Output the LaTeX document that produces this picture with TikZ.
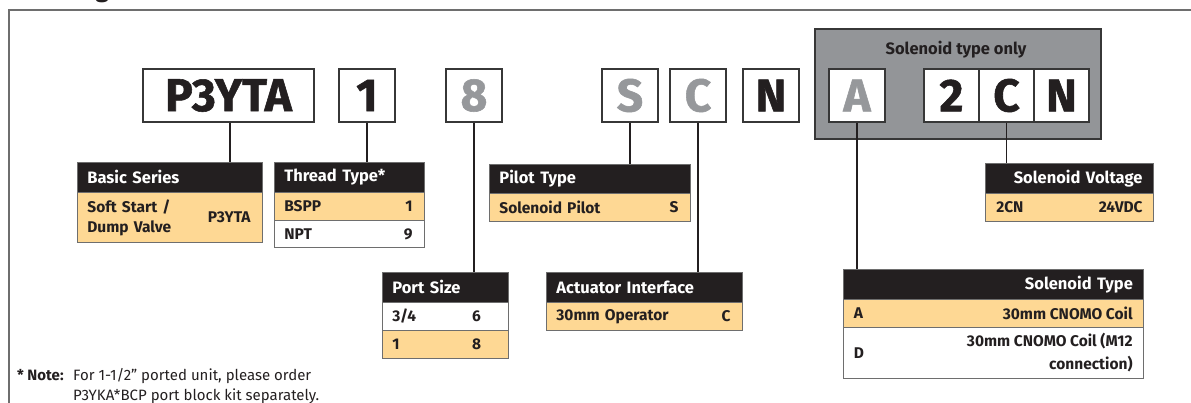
\documentclass[tikz,border=0pt]{standalone}
\usepackage{fontspec}
\setmainfont{Fira Sans}
\definecolor{hdrblack}{RGB}{35,31,32}
\definecolor{rowor}{RGB}{254,216,148}
\definecolor{grayfill}{RGB}{147,149,152}
\definecolor{graytxt}{RGB}{150,152,155}
\definecolor{bordr}{RGB}{55,55,55}
\definecolor{rowline}{RGB}{110,110,110}
\begin{document}
\begin{tikzpicture}[x=1pt,y=-1pt,
  frame/.style={draw=rowline, line width=1.1pt},
  code/.style={draw=bordr, line width=1.5pt, fill=white, inner sep=0pt, minimum width=56pt, minimum height=53pt, font=\bfseries\fontsize{46}{46}\selectfont\addfontfeature{FakeBold=1.2}, text=hdrblack},
  codeg/.style={code, text=graytxt},
  conn/.style={draw=hdrblack, line width=1.2pt},
  tbl/.style={anchor=north west, inner xsep=10pt, inner ysep=0pt, align=left, draw=rowline, line width=0.8pt},
  hdr/.style={tbl, fill=hdrblack, text=white, font=\bfseries\fontsize{16.5}{19}\selectfont, minimum height=30pt},
  rowo/.style={tbl, fill=rowor, text=hdrblack, font=\bfseries\fontsize{15.5}{20}\selectfont, minimum height=28pt},
  roww/.style={rowo, fill=white},
  val/.style={inner sep=0pt, text=hdrblack, font=\bfseries\fontsize{15.5}{20}\selectfont},
  note/.style={anchor=base west, inner sep=0pt, font=\fontsize{15}{17}\selectfont, text=hdrblack}
]
\useasboundingbox (0,0) rectangle (1191,403);
% title (cut off at the top of the picture)
\node[anchor=base west, inner sep=0pt, font=\bfseries\fontsize{24}{24}\selectfont, text=hdrblack] (title) at (12,-2) {Ordering Information};
\draw[frame] (1191,10) -- (9,10) -- (9,403);

% solenoid-only grey panel
\draw[draw=bordr, line width=1.5pt, fill=grayfill] (815,29) rectangle (1101,139);
\node[inner sep=0pt, font=\bfseries\fontsize{16.5}{16.5}\selectfont, text=hdrblack] (solonly) at (956,50) {Solenoid type only};

% code boxes
\node[code, minimum width=171pt] (cP) at (228.5,95.5) {P3YTA};
\node[code] (c1) at (367,95.5) {1};
\node[codeg] (c8) at (474,95.5) {8};
\node[codeg] (cS) at (630,95.5) {S};
\node[codeg] (cC) at (698,95.5) {C};
\node[code] (cN) at (771,95.5) {N};
\node[codeg] (cA) at (857,95.5) {A};
\node[code, minimum width=55pt] (c2) at (951.5,95.5) {2};
\node[code, minimum width=55pt] (cC2) at (1006.5,95.5) {C};
\node[code, minimum width=55pt] (cN2) at (1061.5,95.5) {N};

% Basic Series
\node[hdr, minimum width=185pt, text width=165pt] (bsh) at (77,162) {Basic Series};
\node[rowo, minimum width=185pt, text width=165pt, minimum height=50pt] (bs1) at (77,192) {Soft Start /\\Dump Valve};
\node[val, anchor=east] (bs1v) at ([xshift=-12pt]bs1.east) {P3YTA};

% Thread Type
\node[hdr, minimum width=150pt, text width=130pt] (tth) at (274,162) {Thread Type*};
\node[rowo, minimum width=150pt, text width=130pt] (tt1) at (274,192) {BSPP};
\node[val, anchor=east] (tt1v) at ([xshift=-12pt]tt1.east) {1};
\node[roww, minimum width=150pt, text width=130pt, minimum height=27pt] (tt2) at (274,220) {NPT};
\node[val, anchor=east] (tt2v) at ([xshift=-12pt]tt2.east) {9};

% Pilot Type
\node[hdr, minimum width=201pt, text width=181pt, minimum height=29pt] (pth) at (489,164) {Pilot Type};
\node[rowo, minimum width=201pt, text width=181pt] (pt1) at (489,193) {Solenoid Pilot};
\node[val, anchor=east] (pt1v) at ([xshift=-12pt]pt1.east) {S};

% Port Size
\node[hdr, minimum width=126pt, text width=106pt] (psh) at (382,272) {Port Size};
\node[roww, minimum width=126pt, text width=106pt] (ps1) at (382,302) {3/4};
\node[val, anchor=west] (ps1v) at ([xshift=90pt]ps1.west) {6};
\node[rowo, minimum width=126pt, text width=106pt] (ps2) at (382,330) {1};
\node[val, anchor=west] (ps2v) at ([xshift=90pt]ps2.west) {8};

% Actuator Interface
\node[hdr, minimum width=196pt, text width=176pt] (aih) at (546,272) {Actuator Interface};
\node[rowo, minimum width=196pt, text width=176pt] (ai1) at (546,302) {30mm Operator};
\node[val, anchor=east] (ai1v) at ([xshift=-12pt]ai1.east) {C};

% Solenoid Voltage
\node[hdr, minimum width=168pt, text width=146pt, align=right] (svh) at (985,163) {Solenoid Voltage};
\node[rowo, minimum width=168pt, text width=146pt] (sv1) at (985,193) {2CN};
\node[val, anchor=east] (sv1v) at ([xshift=-11pt]sv1.east) {24VDC};

% Solenoid Type
\node[hdr, minimum width=300pt, text width=279pt, align=right] (sth) at (843,269) {Solenoid Type};
\node[rowo, minimum width=300pt, text width=279pt] (st1) at (843,299) {A};
\node[val, anchor=east] (st1v) at ([xshift=-11pt]st1.east) {30mm CNOMO Coil};
\node[roww, minimum width=300pt, text width=279pt, minimum height=51pt] (st2) at (843,327) {D};
\node[val, anchor=east, align=right, font=\bfseries\fontsize{15.5}{23}\selectfont] (st2v) at ([xshift=-11pt]st2.east) {30mm CNOMO Coil (M12\\connection)};

% connectors
\draw[conn] ([xshift=1.5pt]cP.south) -- ([xshift=1.5pt]cP.south |- bsh.north);
\draw[conn] (c1.south) -- (c1.south |- tth.north);
\draw[conn] (c8.south) -- (c8.south |- psh.north);
\draw[conn] (cS.south) -- (cS.south |- pth.north);
\draw[conn] (cC.south) -- (cC.south |- aih.north);
\draw[conn] (cA.south) -- (cA.south |- sth.north);
\draw[conn] (cC2.south) -- (cC2.south |- svh.north);

% note
\node[note] (note1) at (17,380) {\textbf{* Note:}};
\node[note] (note2) at (73,380) {For 1-1/2\symbol{34} ported unit, please order};
\node[note] (note3) at (73,400) {P3YKA*BCP port block kit separately.};
\end{tikzpicture}
\end{document}
